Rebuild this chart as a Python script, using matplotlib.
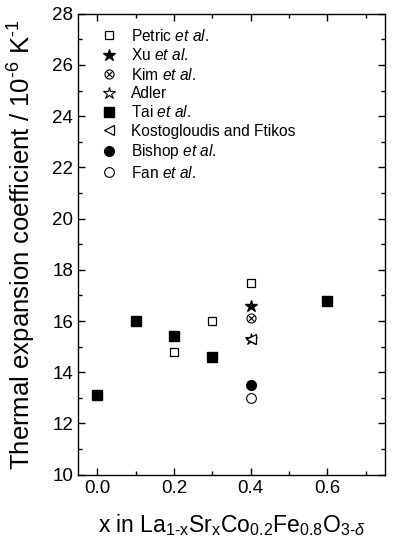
import matplotlib
matplotlib.use("Agg")
import matplotlib.pyplot as plt
from matplotlib.ticker import MultipleLocator
from matplotlib.legend_handler import HandlerTuple

plt.rcParams["font.family"] = ["Liberation Sans", "DejaVu Sans"]
plt.rcParams["mathtext.fontset"] = "custom"
plt.rcParams["mathtext.rm"] = "Liberation Sans"
plt.rcParams["mathtext.it"] = "Liberation Sans:italic"

# data
petric_x = [0.2, 0.3, 0.4]
petric_y = [14.8, 16.0, 17.5]
xu_x = [0.4]
xu_y = [16.6]
kim_x = [0.4]
kim_y = [16.1]
adler_x = [0.4]
adler_y = [15.3]
tai_x = [0.0, 0.1, 0.2, 0.3, 0.6]
tai_y = [13.1, 16.0, 15.4, 14.6, 16.8]
kost_x = [0.4]
kost_y = [15.3]
bishop_x = [0.4]
bishop_y = [13.5]
fan_x = [0.4]
fan_y = [13.0]

fig, ax = plt.subplots(figsize=(3.96, 5.5), dpi=100)
fig.subplots_adjust(left=0.197, right=0.972, top=0.975, bottom=0.137)

ms = 6
h_petric, = ax.plot(petric_x, petric_y, ls="none", marker="s", ms=ms, mfc="white", mec="black", mew=0.9)
h_xu, = ax.plot(xu_x, xu_y, ls="none", marker="*", ms=ms + 3, mfc="black", mec="black")
h_kim_o, = ax.plot(kim_x, kim_y, ls="none", marker="o", ms=ms + 0.5, mfc="none", mec="black", mew=0.8)
h_kim_x, = ax.plot(kim_x, kim_y, ls="none", marker="x", ms=ms - 1.5, mec="black", mew=0.8)
h_adler, = ax.plot(adler_x, adler_y, ls="none", marker="*", ms=ms + 3, mfc="white", mec="black", mew=0.8)
h_tai, = ax.plot(tai_x, tai_y, ls="none", marker="s", ms=ms + 0.5, mfc="black", mec="black")
h_kost, = ax.plot(kost_x, kost_y, ls="none", marker="<", ms=ms + 1, mfc="white", mec="black", mew=0.9)
h_bishop, = ax.plot(bishop_x, bishop_y, ls="none", marker="o", ms=ms + 1, mfc="black", mec="black")
h_fan, = ax.plot(fan_x, fan_y, ls="none", marker="o", ms=ms + 1, mfc="white", mec="black", mew=0.8)

handles = [h_petric, h_xu, (h_kim_o, h_kim_x), h_adler, h_tai, h_kost, h_bishop, h_fan]
labels = [r"Petric $\it{et\ al}$.", r"Xu $\it{et\ al}$.", r"Kim $\it{et\ al}$.", "Adler",
          r"Tai $\it{et\ al}$.", "Kostogloudis and Ftikos", r"Bishop $\it{et\ al}$.", r"Fan $\it{et\ al}$."]
ax.legend(handles, labels, loc="upper left", frameon=False, fontsize=11.2,
          handler_map={tuple: HandlerTuple(ndivide=1, pad=0)},
          handlelength=1.0, handletextpad=0.92, labelspacing=0.22,
          borderaxespad=0, bbox_to_anchor=(0.055, 0.983))

ax.set_xlim(-0.05, 0.75)
ax.set_ylim(10, 28)
ax.xaxis.set_major_locator(MultipleLocator(0.2))
ax.xaxis.set_minor_locator(MultipleLocator(0.1))
ax.yaxis.set_major_locator(MultipleLocator(2))
ax.yaxis.set_minor_locator(MultipleLocator(1))
ax.set_xticks([0.0, 0.2, 0.4, 0.6])
ax.set_xticklabels(["0.0", "0.2", "0.4", "0.6"])
ax.tick_params(which="both", direction="in", top=True, right=True, labelsize=13.5)
ax.tick_params(which="major", length=5, width=1)
ax.tick_params(which="minor", length=3, width=1)
for s in ax.spines.values():
    s.set_linewidth(1)

ax.set_xlabel(r"x in La$_{\mathrm{1\text{-}x}}$Sr$_{\mathrm{x}}$Co$_{0.2}$Fe$_{0.8}$O$_{3\text{-}\delta}$",
              fontsize=16.5, labelpad=11)
ax.set_ylabel(r"Thermal expansion coefficient / 10$^{\text{-}6}$ K$^{\text{-}1}$", fontsize=18.5, labelpad=10)

fig.savefig("out.png", dpi=100)
